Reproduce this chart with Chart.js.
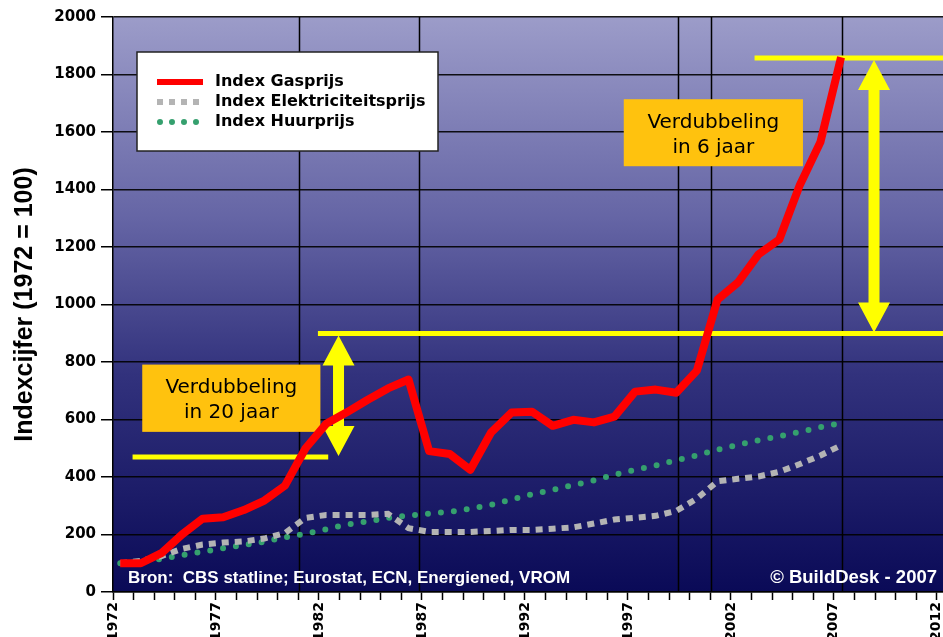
<!DOCTYPE html>
<html>
<head>
<meta charset="utf-8">
<script src="https://cdn.jsdelivr.net/npm/chart.js@4.4.1/dist/chart.umd.min.js"></script>
<style>
    html, body { margin: 0; padding: 0; background: #fff; }
    #wrap { width: 943px; height: 637px; position: relative; }
</style>
</head>
<body>
<div id="wrap"><canvas id="prijs-canvas"></canvas></div>
<script>
var years = [1972, 1973, 1974, 1975, 1976, 1977, 1978, 1979, 1980, 1981, 1982, 1983, 1984, 1985, 1986, 1987, 1988, 1989, 1990, 1991, 1992, 1993, 1994, 1995, 1996, 1997, 1998, 1999, 2000, 2001, 2002, 2003, 2004, 2005, 2006, 2007];

var gasData = [100, 100, 135, 200, 255, 260, 285, 318, 370, 500, 585, 625, 668, 708, 739, 490, 480, 425, 554, 624, 627, 578, 599, 590, 610, 697, 704, 693, 770, 1017, 1077, 1175, 1226, 1416, 1565, 1860];

var elecData = [100, 108, 125, 150, 165, 172, 176, 186, 205, 258, 268, 268, 268, 272, 222, 209, 209, 209, 212, 216, 216, 220, 225, 238, 252, 258, 265, 282, 325, 385, 394, 402, 418, 445, 475, 510];

var huurData = [100, 105, 115, 128, 140, 152, 163, 175, 190, 203, 218, 235, 245, 258, 266, 273, 279, 290, 303, 322, 340, 355, 372, 388, 408, 425, 440, 458, 475, 495, 512, 528, 542, 557, 573, 588];

var tickYears = [1972, 1973, 1974, 1975, 1976, 1977, 1978, 1979, 1980, 1981, 1982, 1983, 1984, 1985, 1986, 1987, 1988, 1989, 1990, 1991, 1992, 1993, 1994, 1995, 1996, 1997, 1998, 1999, 2000, 2001, 2002, 2003, 2004, 2005, 2006, 2007, 2008, 2009, 2010, 2011, 2012];
var labelYears = [1972, 1977, 1982, 1987, 1992, 1997, 2002, 2007, 2012];

// punten staan iets binnen het jaarvak, niet op de tick
var slotOffset = 0.35;

// losse verticale lijnen in het plotvlak
var dropYears = [1980.7, 1986.5, 1999.1, 2000.7, 2007.05];

var bronText = 'Bron:  CBS statline; Eurostat, ECN, Energiened, VROM';
var copyText = '\u00A9 BuildDesk - 2007';

function toPoints(values) {
    return years.map(function (y, i) { return { x: y + slotOffset, y: values[i] }; });
}

var boldFont = "'DejaVu Sans', 'Verdana', sans-serif";
var arialFont = "'Liberation Sans', Arial, sans-serif";

var backdrop = {
    id: 'backdrop',
    beforeDraw: function (chart) {
        var ctx = chart.ctx, a = chart.chartArea;
        ctx.save();
        ctx.fillStyle = '#ffffff';
        ctx.fillRect(0, 0, chart.width, chart.height);
        var g = ctx.createLinearGradient(0, a.top, 0, a.bottom);
        g.addColorStop(0, '#9c9cc9');
        g.addColorStop(0.35, '#6565a5');
        g.addColorStop(0.62, '#32327d');
        g.addColorStop(1, '#0a0a57');
        ctx.fillStyle = g;
        ctx.fillRect(a.left, a.top, a.right - a.left, a.bottom - a.top);
        ctx.restore();
    }
};

function drawArrow(ctx, x, yTop, yBot) {
    var head = 30, hw = 16, sw = 5.5;
    ctx.beginPath();
    ctx.moveTo(x, yTop);
    ctx.lineTo(x + hw, yTop + head);
    ctx.lineTo(x + sw, yTop + head);
    ctx.lineTo(x + sw, yBot - head);
    ctx.lineTo(x + hw, yBot - head);
    ctx.lineTo(x, yBot);
    ctx.lineTo(x - hw, yBot - head);
    ctx.lineTo(x - sw, yBot - head);
    ctx.lineTo(x - sw, yTop + head);
    ctx.lineTo(x - hw, yTop + head);
    ctx.closePath();
    ctx.fill();
}

var markings = {
    id: 'markings',
    beforeDatasetsDraw: function (chart) {
        var ctx = chart.ctx, a = chart.chartArea;
        var xs = chart.scales.x, ys = chart.scales.y;
        var px = function (yr) { return xs.getPixelForValue(yr + slotOffset); };
        ctx.save();
        ctx.beginPath();
        ctx.rect(a.left, a.top - 5, a.right - a.left + 5, a.bottom - a.top + 5);
        ctx.clip();

        // verticale lijnen
        ctx.strokeStyle = '#000';
        ctx.lineWidth = 1.5;
        dropYears.forEach(function (yr) {
            var x = Math.round(px(yr)) + 0.5;
            ctx.beginPath();
            ctx.moveTo(x, a.top);
            ctx.lineTo(x, a.bottom);
            ctx.stroke();
        });

        // gele hulplijnen
        ctx.strokeStyle = '#ffff00';
        ctx.lineWidth = 5;
        [[2002.8, 2013, 1857], [1981.6, 2013, 899], [1972.6, 1982.1, 470]].forEach(function (l) {
            var py = ys.getPixelForValue(l[2]);
            ctx.beginPath();
            ctx.moveTo(px(l[0]), py);
            ctx.lineTo(px(l[1]), py);
            ctx.stroke();
        });

        ctx.fillStyle = '#ffff00';
        drawArrow(ctx, px(1982.6), ys.getPixelForValue(899) + 2, ys.getPixelForValue(470) - 1);
        drawArrow(ctx, px(2008.6), ys.getPixelForValue(1857) + 2, ys.getPixelForValue(899) - 1);

        // tekstvakken
        [[1973.07, 1981.72, 791, 557, 'Verdubbeling', 'in 20 jaar'],
         [1996.45, 2005.15, 1714, 1481, 'Verdubbeling', 'in 6 jaar']].forEach(function (b) {
            var x1 = px(b[0]), x2 = px(b[1]);
            var y1 = ys.getPixelForValue(b[2]), y2 = ys.getPixelForValue(b[3]);
            ctx.fillStyle = '#ffc20e';
            ctx.fillRect(x1, y1, x2 - x1, y2 - y1);
            ctx.fillStyle = '#000';
            ctx.font = '20px ' + boldFont;
            ctx.textAlign = 'center';
            ctx.textBaseline = 'middle';
            var cx = (x1 + x2) / 2, cy = (y1 + y2) / 2;
            ctx.fillText(b[4], cx, cy - 10);
            ctx.fillText(b[5], cx, cy + 15);
        });
        ctx.restore();
    },
    afterDatasetsDraw: function (chart) {
        var ctx = chart.ctx, a = chart.chartArea;
        ctx.save();

        // bron en copyright
        ctx.fillStyle = '#ffffff';
        ctx.textBaseline = 'alphabetic';
        ctx.font = 'bold 17px ' + arialFont;
        ctx.textAlign = 'left';
        ctx.fillText(bronText, a.left + 15, a.bottom - 9);
        ctx.font = 'bold 18.5px ' + arialFont;
        ctx.textAlign = 'right';
        ctx.fillText(copyText, 937, a.bottom - 9);

        // legenda
        var lx = 137, ly = 52, lw = 301, lh = 99;
        ctx.fillStyle = '#ffffff';
        ctx.fillRect(lx, ly, lw, lh);
        ctx.strokeStyle = '#222';
        ctx.lineWidth = 1.5;
        ctx.strokeRect(lx, ly, lw, lh);
        chart.data.datasets.forEach(function (ds, i) {
            var ry = 82 + i * 20;
            ctx.save();
            ctx.strokeStyle = ds.borderColor;
            ctx.lineWidth = 6;
            ctx.lineCap = ds.borderCapStyle || 'butt';
            ctx.setLineDash(i === 0 ? [] : (i === 1 ? [6, 6] : [0, 12]));
            ctx.beginPath();
            ctx.moveTo(i === 2 ? 160 : 157, ry);
            ctx.lineTo(203, ry);
            ctx.stroke();
            ctx.restore();
            ctx.fillStyle = '#000';
            ctx.font = 'bold 16px ' + boldFont;
            ctx.textAlign = 'left';
            ctx.textBaseline = 'middle';
            ctx.fillText(ds.label, 215, ry);
        });
        ctx.restore();
    }
};

var prijsCanvas = document.getElementById('prijs-canvas').getContext('2d');

var prijsChart = new Chart(prijsCanvas, {
    type: 'line',
    data: {
        datasets: [
            {
                label: 'Index Gasprijs',
                data: toPoints(gasData),
                borderColor: '#ff0000',
                borderWidth: 8,
                borderJoinStyle: 'round',
                pointRadius: 0,
                tension: 0
            },
            {
                label: 'Index Elektriciteitsprijs',
                data: toPoints(elecData),
                borderColor: '#b4b4b4',
                borderWidth: 6,
                borderDash: [7, 6],
                pointRadius: 0,
                tension: 0
            },
            {
                label: 'Index Huurprijs',
                data: toPoints(huurData),
                borderColor: '#35a06e',
                borderWidth: 6,
                borderDash: [0, 13],
                borderCapStyle: 'round',
                pointRadius: 0,
                tension: 0
            }
        ]
    },
    options: {
        responsive: true,
        maintainAspectRatio: false,
        animation: false,
        layout: { padding: { top: 17, right: 0, left: 0, bottom: 0 } },
        plugins: {
            legend: { display: false },
            tooltip: { enabled: false }
        },
        scales: {
            x: {
                type: 'linear',
                min: 1972,
                max: 2012.3,
                afterBuildTicks: function (scale) {
                    scale.ticks = tickYears.map(function (v) { return { value: v }; });
                },
                afterFit: function (scale) {
                    scale.height = 45;
                    scale.paddingLeft = 0;
                    scale.paddingRight = 0;
                },
                ticks: {
                    autoSkip: false,
                    minRotation: 90,
                    maxRotation: 90,
                    padding: 2,
                    color: '#000',
                    font: { family: boldFont, size: 14, weight: 'bold' },
                    callback: function (value) {
                        return labelYears.indexOf(value) >= 0 ? String(value) : '';
                    }
                },
                grid: {
                    drawOnChartArea: false,
                    drawTicks: true,
                    tickLength: 8,
                    tickColor: '#000',
                    tickWidth: 1.5
                },
                border: { color: '#000', width: 1.5 }
            },
            y: {
                min: 0,
                max: 2000,
                afterFit: function (scale) {
                    scale.width = 113;
                },
                ticks: {
                    stepSize: 200,
                    padding: 5,
                    color: '#000',
                    font: { family: boldFont, size: 15, weight: 'bold' },
                    callback: function (value) {
                        return String(value);
                    }
                },
                title: {
                    display: true,
                    text: 'Indexcijfer (1972 = 100)',
                    color: '#000',
                    padding: { top: 10, bottom: 0 },
                    font: { family: arialFont, size: 25, weight: 'bold' }
                },
                grid: {
                    color: 'rgba(0, 0, 0, 0.9)',
                    lineWidth: 1.5,
                    tickLength: 12,
                    tickColor: '#000'
                },
                border: { color: '#000', width: 1.5 }
            }
        }
    },
    plugins: [backdrop, markings]
});
</script>
</body>
</html>
